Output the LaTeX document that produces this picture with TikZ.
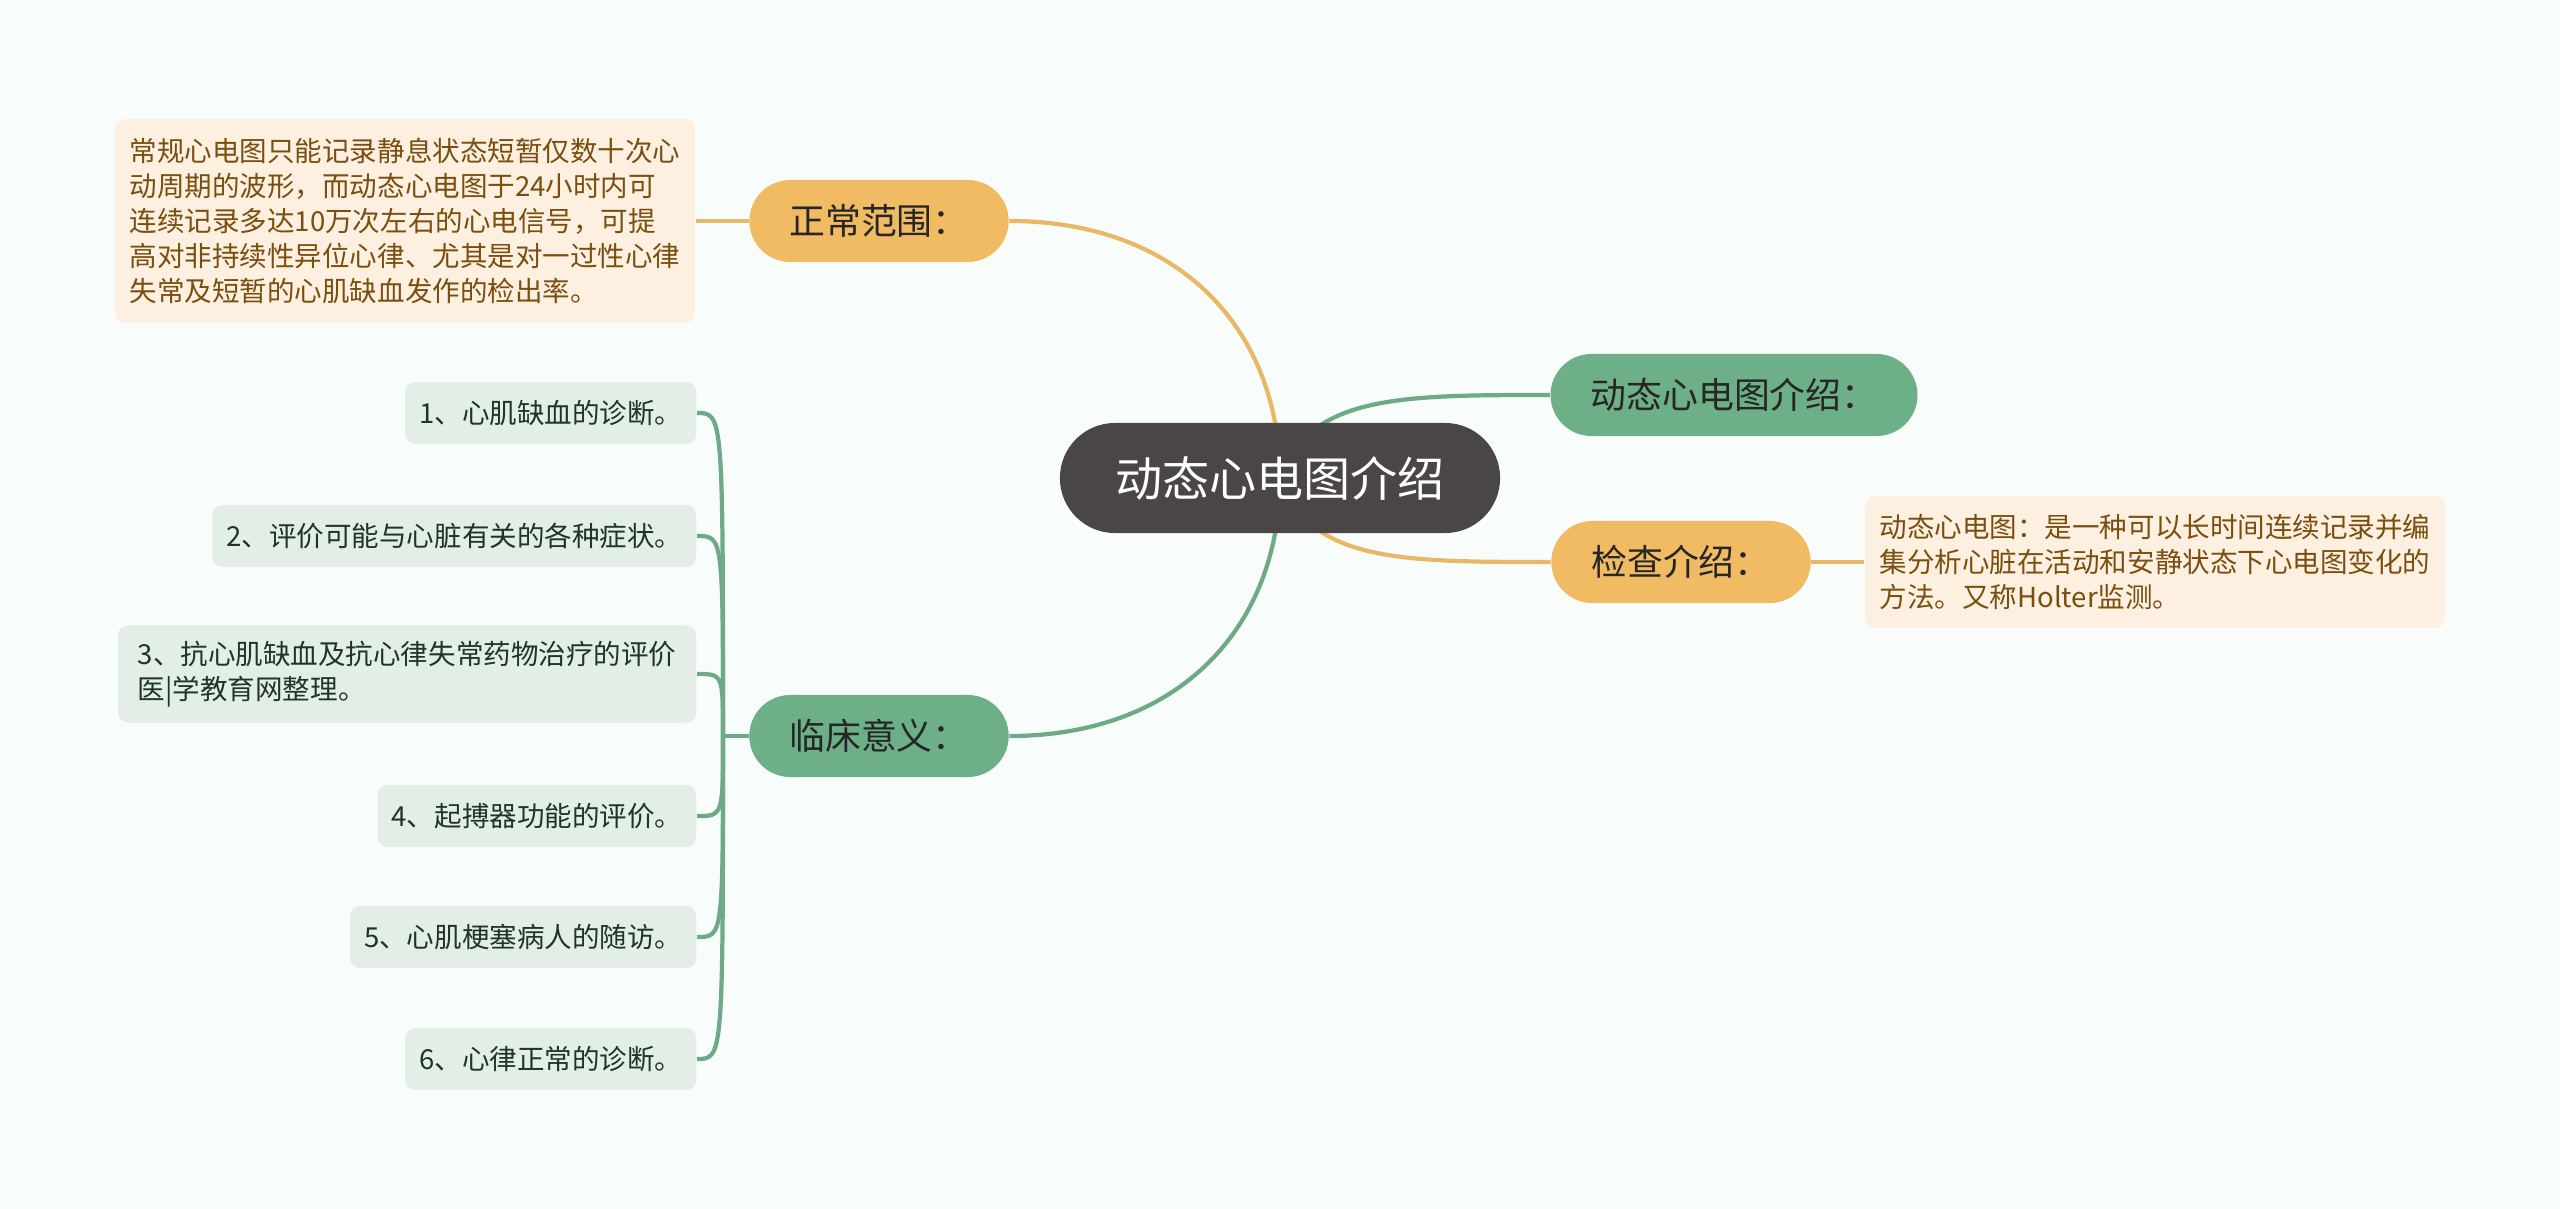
\documentclass[tikz,border=0pt]{standalone}
\usepackage{xcolor}
\usepackage{fontspec}
\newfontfamily\cjk{Noto Sans CJK SC}
\usepackage{tikz}
\usetikzlibrary{positioning,shapes,backgrounds}

\definecolor{bgcol}{HTML}{F8FDFC}
\definecolor{rootfill}{HTML}{4A4546}
\definecolor{orangefill}{HTML}{F0BB62}
\definecolor{greenfill}{HTML}{6DAF86}
\definecolor{orangeline}{HTML}{E9B866}
\definecolor{greenline}{HTML}{6DAA85}
\definecolor{notefill}{HTML}{FDF0E1}
\definecolor{notetext}{HTML}{7A4E0E}
\definecolor{itemfill}{HTML}{E2EEE6}
\definecolor{itemtext}{HTML}{1F3526}

\tikzset{
  rootnode/.style={fill=rootfill, text=white, rounded corners=0.55cm, minimum width=4.4cm, minimum height=1.1cm, font=\cjk\fontsize{13.4}{16}\selectfont},
  topic/.style={rounded corners=0.41cm, minimum height=0.82cm, inner xsep=0.4cm, inner ysep=0pt, text=black!85, font=\cjk\fontsize{10.2}{12}\selectfont},
  notebox/.style={fill=notefill, text=notetext, rounded corners=0.1cm, align=left, inner xsep=0.145cm, inner ysep=0.05cm, font=\cjk\fontsize{7.83}{9.96}\selectfont},
  itembox/.style={fill=itemfill, text=itemtext, rounded corners=0.1cm, align=left, anchor=east, inner xsep=0.14cm, inner ysep=0.05cm, minimum height=0.62cm, font=\cjk\fontsize{7.83}{9.96}\selectfont},
  link/.style={line width=1.2pt}
}

\begin{document}
\begin{tikzpicture}[x=0.01cm, y=-0.01cm]
\useasboundingbox (0,0) rectangle (2560,1209);

\node[rootnode] (root) at (1280,478) {动态心电图介绍};

\node[topic, fill=orangefill] (normal) at (879,221) {正常范围：};
\node[topic, fill=greenfill] (clinic) at (879,736) {临床意义：};
\node[topic, fill=greenfill] (intro) at (1734,395) {动态心电图介绍：};
\node[topic, fill=orangefill] (exam) at (1681,562) {检查介绍：};

\node[notebox, minimum height=2.04cm, left=0.53cm of normal] (normalnote) {常规心电图只能记录静息状态短暂仅数十次心\\动周期的波形，而动态心电图于24小时内可\\连续记录多达10万次左右的心电信号，可提\\高对非持续性异位心律、尤其是对一过性心律\\失常及短暂的心肌缺血发作的检出率。};
\node[notebox, minimum height=1.32cm, right=0.53cm of exam] (examnote) {动态心电图：是一种可以长时间连续记录并编\\集分析心脏在活动和安静状态下心电图变化的\\方法。又称Holter监测。};

\node[itembox] (item1) at (697,413) {1、心肌缺血的诊断。};
\node[itembox] (item2) at (697,536) {2、评价可能与心脏有关的各种症状。};
\node[itembox, minimum height=0.97cm, inner xsep=0.2cm] (item3) at (697,674) {3、抗心肌缺血及抗心律失常药物治疗的评价\\医|学教育网整理。};
\node[itembox] (item4) at (697,816) {4、起搏器功能的评价。};
\node[itembox] (item5) at (697,937) {5、心肌梗塞病人的随访。};
\node[itembox] (item6) at (697,1059) {6、心律正常的诊断。};

\coordinate (trunk) at (723,736);

\begin{scope}[on background layer]
\fill[bgcol] (0,0) rectangle (2560,1209);
\draw[link, orangeline] (root.center) .. controls (1280,330) and (1180,221) .. (normal.east);
\draw[link, greenline] (root.center) .. controls (1280,626) and (1180,736) .. (clinic.east);
\draw[link, greenline] (root.center) .. controls (1310,395) and (1400,395) .. (intro.west);
\draw[link, orangeline] (root.center) .. controls (1310,562) and (1400,562) .. (exam.west);
\draw[link, orangeline] (normal.west) -- (normalnote.east);
\draw[link, orangeline] (exam.east) -- (examnote.west);
\draw[link, greenline] (clinic.west) -- (trunk);
\draw[link, greenline] (trunk) .. controls (trunk |- item1.east) .. (item1.east);
\draw[link, greenline] (trunk) .. controls (trunk |- item2.east) .. (item2.east);
\draw[link, greenline] (trunk) .. controls (trunk |- item3.east) .. (item3.east);
\draw[link, greenline] (trunk) .. controls (trunk |- item4.east) .. (item4.east);
\draw[link, greenline] (trunk) .. controls (trunk |- item5.east) .. (item5.east);
\draw[link, greenline] (trunk) .. controls (trunk |- item6.east) .. (item6.east);
\end{scope}
\end{tikzpicture}
\end{document}
